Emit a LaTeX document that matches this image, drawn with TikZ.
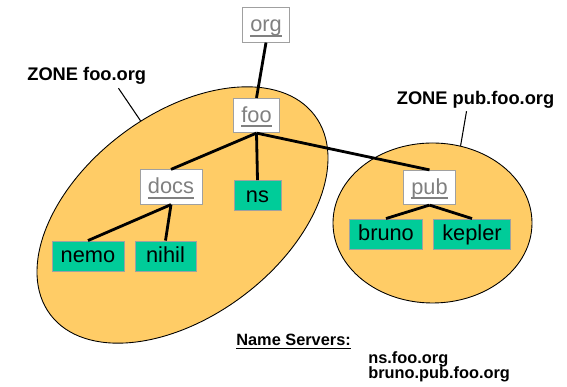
\documentclass[tikz,border=0pt]{standalone}
\usepackage{fontspec}
\setmainfont{Liberation Sans}
\usetikzlibrary{shapes.geometric}
\definecolor{zonefill}{HTML}{FFCC66}
\definecolor{hostfill}{HTML}{00CC99}
\definecolor{domgray}{HTML}{808080}
\definecolor{boxgray}{HTML}{A0A0A0}
\newcommand{\dnsul}[1]{\setbox0=\hbox{#1}\rlap{\rule[-3pt]{\wd0}{1.1pt}}\box0}
\newcommand{\boxfont}{\fontsize{12.4}{14}\selectfont}

\begin{document}
\begin{tikzpicture}[
  zone/.style={ellipse,draw,fill=zonefill,line width=0.5pt,inner sep=0pt},
  dom/.style={draw=boxgray,fill=white,text=domgray,font=\boxfont,
    text height=9pt,text depth=1.5pt,inner xsep=4.5pt,minimum height=0.69cm},
  host/.style={draw=boxgray,fill=hostfill,font=\boxfont,
    text height=9pt,text depth=1.5pt,inner xsep=5pt,minimum height=0.56cm},
  link/.style={line width=1.6pt},
  ptr/.style={line width=0.6pt},
  zonelabel/.style={font=\bfseries\fontsize{10.4}{12}\selectfont,inner sep=0pt,anchor=base west},
  nslabel/.style={font=\bfseries\fontsize{9.3}{11}\selectfont,inner sep=0pt,anchor=base west}]
\useasboundingbox (0,0) rectangle (11.34,7.74);
% zones
\node (zonefoo) [zone,rotate=37,minimum width=6.62cm,minimum height=4.04cm] at (3.65,3.44) {};
\node (zonepub) [zone,minimum width=3.98cm,minimum height=3.2cm] at (8.65,3.28) {};
% domains and hosts
\node (org) [dom] at (5.32,7.24) {\dnsul{org}};
\node (foo) [dom] at (5.13,5.43) {\dnsul{foo}};
\node (docs) [dom] at (3.42,4.00) {\dnsul{docs}};
\node (pub) [dom] at (8.59,3.99) {\dnsul{pub}};
\node (ns) [host,minimum width=0.94cm] at (5.15,3.83) {ns};
\node (nemo) [host] at (1.76,2.62) {nemo};
\node (nihil) [host,minimum width=1.22cm] at (3.31,2.62) {nihil};
\node (bruno) [host] at (7.72,3.06) {bruno};
\node (kepler) [host] at (9.44,3.06) {kepler};
\path[link]
(org.south) edge (foo.north)
(foo.south) edge (docs.north)
(foo.south) edge (ns.north)
(foo.south) edge (pub.north)
(docs.south) edge (nemo.north)
(docs.south) edge (nihil.north)
(pub.south) edge (bruno.north)
(pub.south) edge (kepler.north);
% labels
\node (zonefoolabel) [zonelabel] at (0.54,6.12) {ZONE foo.org};
\node (zonepublabel) [zonelabel] at (7.93,5.64) {ZONE pub.foo.org};
\draw[ptr] ([xshift=-0.56cm,yshift=-0.06cm]zonefoolabel.south east) -- (zonefoo.77);
\draw[ptr] ([xshift=-0.18cm,yshift=-0.04cm]zonepublabel.south) -- (zonepub.70);
\node (servers) [nslabel] at (4.72,0.83) {\underline{Name Servers:}};
\node (nsline) [nslabel] at (7.36,0.46) {ns.foo.org};
\node (brunoline) [nslabel] at (7.36,0.16) {bruno.pub.foo.org};
\end{tikzpicture}
\end{document}
